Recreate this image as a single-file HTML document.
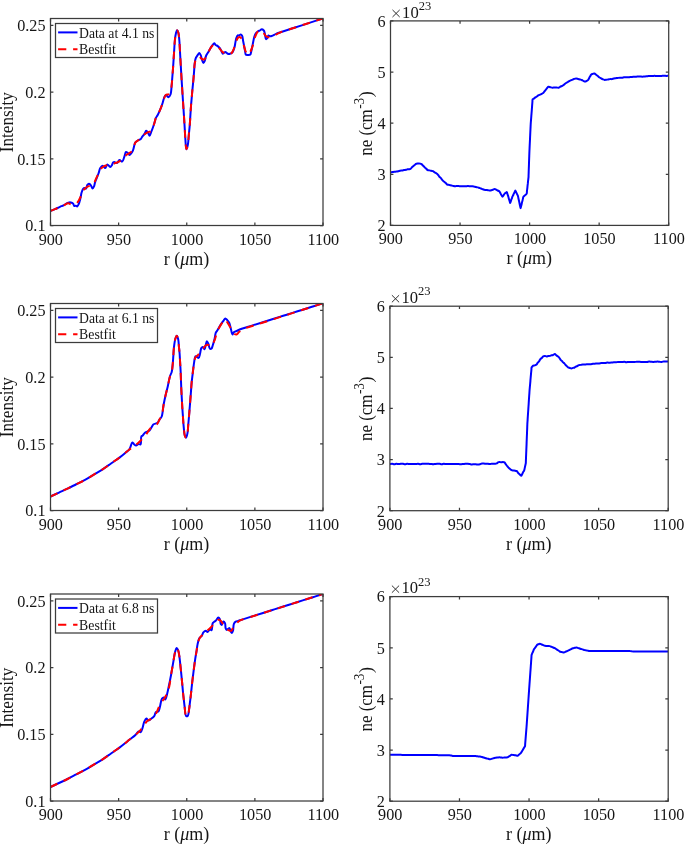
<!DOCTYPE html>
<html><head><meta charset="utf-8"><style>
html,body{margin:0;padding:0;background:#fff;}
svg{display:block;will-change:transform;}
text{font-family:"Liberation Serif",serif;fill:#161616;}
.tk{font-size:16.2px;}
.xl{font-size:18px;}
.yl{font-size:18px;}
.lg{font-size:14px;}
.ex{font-size:16.6px;}
.sup{font-size:14px;}
.sup2{font-size:12.5px;}
</style></head><body>
<svg width="685" height="844" viewBox="0 0 685 844">
<rect width="685" height="844" fill="#fff"/>
<defs><clipPath id="cl0"><rect x="50.50" y="18.50" width="272.50" height="207.00"/></clipPath></defs>
<g clip-path="url(#cl0)">
<path d="M50.50 211.00C52.00 210.40 53.47 209.87 55.00 209.20C56.63 208.48 58.47 207.47 60.00 206.80C61.26 206.25 62.41 205.95 63.50 205.40C64.54 204.88 65.41 204.11 66.40 203.60C67.35 203.11 68.36 202.53 69.30 202.40C70.12 202.29 71.03 202.46 71.70 202.70C72.26 202.90 72.70 203.15 73.10 203.60C73.61 204.17 73.75 205.73 74.30 206.00C74.71 206.20 75.32 205.62 75.80 205.70C76.29 205.78 76.77 206.60 77.20 206.50C77.76 206.36 78.25 205.18 78.70 204.20C79.37 202.74 79.92 200.35 80.40 198.40C80.88 196.45 81.07 194.19 81.60 192.50C82.02 191.16 82.48 189.74 83.10 189.00C83.51 188.51 84.01 188.15 84.50 188.10C84.98 188.05 85.58 188.89 86.00 188.70C86.67 188.40 86.77 185.73 87.40 184.90C87.83 184.33 88.39 183.84 88.90 183.80C89.39 183.77 89.96 184.16 90.40 184.60C90.98 185.19 91.35 186.62 91.80 187.30C92.11 187.77 92.39 188.41 92.70 188.40C93.08 188.39 93.56 187.43 93.90 186.70C94.39 185.66 94.63 183.81 95.00 182.60C95.30 181.63 95.51 181.06 95.90 180.00C96.53 178.32 97.74 175.59 98.50 173.50C99.19 171.60 99.46 169.37 100.30 168.00C100.93 166.97 101.80 165.72 102.60 165.70C103.43 165.67 104.44 168.12 105.20 168.00C106.02 167.87 106.44 164.65 107.30 164.50C108.12 164.36 109.38 166.95 110.20 166.90C110.86 166.86 111.43 165.80 111.90 165.10C112.41 164.35 112.59 163.03 113.10 162.50C113.45 162.14 113.82 161.91 114.30 161.90C115.00 161.89 116.09 163.27 116.90 163.10C117.85 162.90 118.55 160.27 119.50 160.10C120.34 159.95 121.46 161.84 122.20 161.60C123.12 161.30 123.58 158.74 124.20 157.20C124.86 155.55 125.21 152.35 126.00 152.00C126.41 151.82 126.92 152.26 127.40 152.60C128.08 153.08 128.82 154.86 129.50 154.90C130.08 154.93 130.67 154.04 131.20 153.40C131.86 152.59 132.48 151.54 133.00 150.30C133.68 148.66 134.11 145.73 134.60 144.30C134.88 143.48 134.93 143.00 135.40 142.40C136.05 141.58 137.52 140.71 138.50 140.10C139.30 139.60 140.17 139.47 140.80 138.90C141.45 138.31 141.72 137.38 142.30 136.60C142.96 135.72 143.95 134.87 144.60 133.90C145.25 132.94 145.57 130.89 146.20 130.80C146.76 130.72 147.55 132.02 148.10 132.80C148.70 133.66 149.11 135.82 149.60 135.80C150.14 135.78 150.66 133.36 151.20 132.00C151.82 130.45 152.51 128.67 153.10 127.00C153.68 125.34 154.23 123.57 154.70 122.00C155.11 120.62 155.28 119.29 155.80 118.10C156.29 116.97 157.03 116.26 157.70 115.00C158.66 113.18 159.93 110.28 160.80 108.10C161.56 106.21 162.16 104.39 162.70 102.70C163.17 101.22 163.41 99.77 163.90 98.50C164.33 97.37 164.74 95.71 165.40 95.40C165.86 95.19 166.51 95.52 167.00 95.80C167.56 96.11 167.99 97.34 168.50 97.30C169.15 97.25 169.99 95.80 170.50 94.50C171.35 92.31 171.38 87.89 171.70 84.80C171.99 81.99 172.13 79.43 172.35 76.75C172.57 74.07 172.80 71.48 173.00 68.70C173.22 65.70 173.40 62.47 173.60 59.35C173.80 56.23 173.99 53.17 174.20 50.00C174.42 46.72 174.56 43.03 174.90 40.00C175.19 37.45 175.51 34.77 176.00 33.00C176.32 31.87 176.70 30.32 177.10 30.30C177.47 30.28 177.98 31.51 178.30 32.50C178.86 34.22 179.04 37.32 179.30 40.00C179.60 43.09 179.73 47.06 179.90 50.00C180.03 52.31 180.13 54.13 180.25 56.20C180.37 58.27 180.47 60.12 180.60 62.40C180.76 65.20 180.97 68.63 181.15 71.75C181.33 74.87 181.51 77.98 181.70 81.10C181.89 84.22 182.10 87.33 182.30 90.45C182.50 93.57 182.70 96.63 182.90 99.80C183.11 103.07 183.33 106.43 183.55 109.75C183.77 113.07 183.99 116.38 184.20 119.70C184.41 123.02 184.60 126.33 184.80 129.65C185.00 132.97 185.13 136.31 185.40 139.60C185.67 142.86 185.86 149.25 186.40 149.30C186.79 149.34 187.51 146.41 187.90 144.50C188.44 141.80 188.53 137.87 188.85 134.55C189.17 131.23 189.54 127.86 189.80 124.60C190.05 121.45 190.20 118.40 190.40 115.30C190.60 112.20 190.78 108.93 191.00 106.00C191.20 103.36 191.43 101.00 191.65 98.50C191.87 96.00 192.08 93.38 192.30 91.00C192.50 88.83 192.70 86.87 192.90 84.80C193.10 82.73 193.31 80.76 193.50 78.60C193.71 76.23 193.90 73.63 194.10 71.15C194.30 68.67 194.41 65.93 194.70 63.70C194.94 61.86 195.05 60.21 195.60 58.70C196.11 57.30 197.09 55.91 197.80 54.90C198.32 54.16 198.82 53.07 199.30 53.10C199.82 53.13 200.39 54.49 200.80 55.40C201.31 56.54 201.45 58.20 201.90 59.50C202.33 60.73 202.87 62.96 203.40 63.00C203.85 63.03 204.41 61.64 204.80 60.70C205.33 59.44 205.39 57.47 206.00 56.00C206.60 54.54 207.61 53.27 208.40 51.90C209.18 50.54 209.93 49.03 210.70 47.80C211.37 46.73 212.06 45.72 212.70 44.90C213.22 44.24 213.71 43.19 214.20 43.20C214.68 43.21 215.04 44.42 215.60 44.90C216.19 45.40 217.02 45.58 217.70 46.10C218.49 46.70 219.34 47.49 220.00 48.40C220.73 49.40 221.26 50.93 221.80 51.90C222.20 52.61 222.39 53.60 222.90 53.70C223.50 53.82 224.57 51.91 225.30 51.90C225.91 51.89 226.51 52.75 227.00 53.10C227.38 53.37 227.58 53.67 228.00 53.80C228.53 53.97 229.32 53.99 230.00 53.80C230.82 53.57 231.81 53.11 232.50 52.30C233.44 51.20 234.01 48.98 234.50 47.30C234.97 45.68 235.08 44.00 235.40 42.40C235.71 40.87 235.94 39.16 236.40 37.90C236.76 36.92 237.12 35.75 237.70 35.40C238.12 35.14 238.72 35.55 239.20 35.40C239.73 35.24 240.22 34.36 240.70 34.40C241.19 34.44 241.73 35.04 242.10 35.70C242.71 36.80 242.76 39.19 243.10 40.90C243.43 42.56 243.78 44.12 244.10 45.80C244.44 47.58 244.77 49.68 245.10 51.30C245.37 52.60 245.28 54.25 245.90 54.80C246.37 55.21 247.22 55.00 247.90 55.00C248.62 55.00 249.55 55.23 250.10 54.80C250.81 54.24 250.92 52.70 251.30 51.30C251.84 49.30 252.29 46.33 252.80 43.90C253.29 41.53 253.69 38.81 254.30 36.90C254.74 35.51 255.15 34.34 255.80 33.40C256.36 32.60 257.05 32.03 257.80 31.50C258.55 30.96 259.69 30.62 260.30 30.20C260.70 29.93 260.79 29.47 261.20 29.40C261.82 29.30 263.22 29.88 263.80 30.50C264.37 31.10 264.41 31.97 264.70 33.00C265.15 34.58 265.31 38.81 266.00 39.10C266.31 39.23 266.77 38.79 267.10 38.40C267.62 37.79 267.87 35.58 268.40 35.40C268.73 35.29 269.05 35.89 269.50 36.00C270.09 36.15 270.87 36.20 271.70 36.00C272.94 35.71 274.61 34.42 276.10 33.80C277.55 33.20 278.71 32.90 280.50 32.30C283.27 31.37 287.58 29.98 291.12 28.82C294.67 27.67 298.21 26.51 301.75 25.35C305.29 24.19 308.83 23.03 312.38 21.88C315.92 20.72 319.46 19.56 323.00 18.40" fill="none" stroke="#0000ff" stroke-width="2" stroke-linejoin="round"/>
<path d="M50.50 211.00C52.00 210.40 53.47 209.87 55.00 209.20C56.63 208.48 58.47 207.47 60.00 206.80C61.26 206.25 62.25 205.93 63.50 205.40C64.96 204.78 66.82 203.32 68.20 203.30C69.28 203.28 70.07 204.33 71.10 204.50C72.17 204.68 73.44 204.64 74.50 204.30C75.58 203.95 76.58 203.38 77.50 202.40C78.82 200.99 80.08 198.04 81.00 196.00C81.78 194.26 82.08 192.24 82.80 191.00C83.31 190.13 83.79 189.68 84.50 189.00C85.42 188.12 86.81 186.82 88.00 186.30C88.99 185.87 90.09 186.18 91.00 185.80C91.92 185.42 92.79 184.84 93.50 184.00C94.39 182.95 94.85 181.27 95.60 179.70C96.50 177.83 97.56 175.45 98.50 173.50C99.35 171.74 99.98 169.75 101.00 168.50C101.81 167.50 102.78 166.84 103.80 166.30C104.79 165.78 105.82 165.55 107.00 165.30C108.38 165.01 110.21 165.19 111.60 164.80C112.85 164.45 113.86 163.69 115.00 163.20C116.12 162.72 117.33 162.49 118.40 161.90C119.50 161.30 120.53 160.44 121.50 159.60C122.46 158.77 123.27 157.76 124.20 156.90C125.11 156.06 125.98 155.24 127.00 154.50C128.10 153.70 129.58 153.17 130.60 152.30C131.56 151.49 132.36 150.66 133.00 149.50C133.77 148.10 134.00 145.69 134.60 144.30C135.03 143.29 135.36 142.49 136.00 141.80C136.65 141.09 137.64 140.76 138.50 140.10C139.50 139.33 140.59 138.35 141.60 137.40C142.63 136.42 143.56 135.18 144.60 134.30C145.54 133.51 146.46 132.82 147.50 132.30C148.53 131.79 149.91 131.95 150.80 131.20C151.85 130.32 152.46 128.49 153.10 127.00C153.77 125.44 154.23 123.57 154.70 122.00C155.11 120.62 155.28 119.29 155.80 118.10C156.29 116.97 157.03 116.26 157.70 115.00C158.66 113.18 159.93 110.28 160.80 108.10C161.56 106.21 161.96 104.65 162.70 102.70C163.59 100.35 164.52 96.09 165.80 95.00C166.47 94.43 167.30 94.75 168.00 94.50C168.70 94.25 169.46 94.21 170.00 93.50C171.07 92.09 171.31 87.65 171.70 84.80C172.08 82.08 172.13 79.43 172.35 76.75C172.57 74.07 172.80 71.48 173.00 68.70C173.22 65.70 173.40 62.47 173.60 59.35C173.80 56.23 173.99 53.17 174.20 50.00C174.42 46.72 174.56 43.03 174.90 40.00C175.19 37.45 175.51 34.77 176.00 33.00C176.32 31.87 176.70 30.32 177.10 30.30C177.47 30.28 177.98 31.51 178.30 32.50C178.86 34.22 179.04 37.32 179.30 40.00C179.60 43.09 179.73 47.06 179.90 50.00C180.03 52.31 180.13 54.13 180.25 56.20C180.37 58.27 180.47 60.12 180.60 62.40C180.76 65.20 180.97 68.63 181.15 71.75C181.33 74.87 181.51 77.98 181.70 81.10C181.89 84.22 182.10 87.33 182.30 90.45C182.50 93.57 182.70 96.63 182.90 99.80C183.11 103.07 183.33 106.43 183.55 109.75C183.77 113.07 183.99 116.38 184.20 119.70C184.41 123.02 184.60 126.33 184.80 129.65C185.00 132.97 185.13 136.31 185.40 139.60C185.67 142.86 185.86 149.25 186.40 149.30C186.79 149.34 187.51 146.41 187.90 144.50C188.44 141.80 188.53 137.87 188.85 134.55C189.17 131.23 189.54 127.86 189.80 124.60C190.05 121.45 190.20 118.40 190.40 115.30C190.60 112.20 190.78 108.93 191.00 106.00C191.20 103.36 191.43 101.00 191.65 98.50C191.87 96.00 192.08 93.38 192.30 91.00C192.50 88.83 192.70 86.87 192.90 84.80C193.10 82.73 193.31 80.76 193.50 78.60C193.71 76.23 193.90 73.63 194.10 71.15C194.30 68.67 194.29 65.88 194.70 63.70C195.03 61.93 195.29 60.22 196.10 59.00C196.81 57.93 198.03 56.60 199.00 56.60C199.97 56.60 200.93 58.53 201.90 59.00C202.67 59.37 203.51 59.78 204.20 59.50C205.13 59.13 205.75 57.45 206.60 56.00C207.85 53.87 209.30 49.74 210.70 47.80C211.62 46.52 212.46 45.28 213.50 45.00C214.42 44.75 215.56 45.29 216.50 45.80C217.57 46.38 218.54 47.51 219.50 48.50C220.51 49.54 221.33 51.05 222.40 51.90C223.35 52.65 224.37 53.10 225.50 53.50C226.72 53.93 228.37 54.55 229.50 54.30C230.48 54.09 231.30 53.34 232.00 52.50C232.86 51.47 233.35 49.92 234.00 48.30C234.84 46.20 235.60 42.81 236.40 40.90C236.93 39.62 237.33 38.47 238.00 37.80C238.49 37.30 239.15 36.84 239.70 36.90C240.29 36.97 240.92 37.75 241.40 38.40C241.99 39.20 242.40 40.36 242.80 41.50C243.26 42.80 243.48 44.30 243.90 45.80C244.37 47.46 244.92 49.55 245.50 51.00C245.94 52.10 246.25 53.27 246.90 53.80C247.42 54.22 248.25 54.53 248.80 54.30C249.54 54.00 250.00 52.56 250.60 51.30C251.50 49.41 252.51 46.39 253.30 43.90C254.08 41.43 254.46 38.60 255.30 36.40C256.01 34.55 256.74 32.51 257.80 31.50C258.58 30.76 259.64 30.22 260.50 30.30C261.37 30.38 262.23 31.23 263.00 32.00C263.96 32.95 264.67 34.93 265.60 35.80C266.30 36.45 267.00 36.85 267.80 37.10C268.60 37.35 269.50 37.39 270.40 37.30C271.40 37.20 272.55 36.87 273.50 36.40C274.45 35.93 275.09 35.12 276.10 34.50C277.35 33.74 278.68 33.05 280.50 32.30C283.24 31.17 287.58 29.98 291.12 28.82C294.67 27.67 298.21 26.51 301.75 25.35C305.29 24.19 308.83 23.03 312.38 21.88C315.92 20.72 319.46 19.56 323.00 18.40" fill="none" stroke="#ff0000" stroke-width="2" stroke-dasharray="7.6 6.8" stroke-linejoin="round"/>
</g>
<text x="45.50" y="231.30" text-anchor="end" class="tk">0.1</text>
<text x="45.50" y="164.60" text-anchor="end" class="tk">0.15</text>
<text x="45.50" y="97.90" text-anchor="end" class="tk">0.2</text>
<text x="45.50" y="31.20" text-anchor="end" class="tk">0.25</text>
<path d="M50.50 225.50h2.90M323.00 225.50h-2.90M50.50 158.80h2.90M323.00 158.80h-2.90M50.50 92.10h2.90M323.00 92.10h-2.90M50.50 25.40h2.90M323.00 25.40h-2.90" stroke="#3c3c3c" stroke-width="1.25" fill="none"/>
<text x="50.80" y="244.50" text-anchor="middle" class="tk">900</text>
<text x="118.92" y="244.50" text-anchor="middle" class="tk">950</text>
<text x="187.05" y="244.50" text-anchor="middle" class="tk">1000</text>
<text x="255.18" y="244.50" text-anchor="middle" class="tk">1050</text>
<text x="323.30" y="244.50" text-anchor="middle" class="tk">1100</text>
<path d="M50.50 225.50v-2.90M50.50 18.50v2.90M118.62 225.50v-2.90M118.62 18.50v2.90M186.75 225.50v-2.90M186.75 18.50v2.90M254.88 225.50v-2.90M254.88 18.50v2.90M323.00 225.50v-2.90M323.00 18.50v2.90" stroke="#3c3c3c" stroke-width="1.25" fill="none"/>
<rect x="50.50" y="18.50" width="272.50" height="207.00" fill="none" stroke="#3c3c3c" stroke-width="1.25"/>
<rect x="55.50" y="23.50" width="102" height="34" fill="#fff" stroke="#3c3c3c" stroke-width="1.25"/>
<path d="M58.10 32.40h19.4" stroke="#0000ff" stroke-width="2"/>
<path d="M58.10 49.20h19.4" stroke="#ff0000" stroke-width="2" stroke-dasharray="8.2 6.8"/>
<text x="79.10" y="37.80" class="lg" textLength="75.3" lengthAdjust="spacingAndGlyphs">Data at 4.1 ns</text>
<text x="79.10" y="54.00" class="lg" textLength="36.8" lengthAdjust="spacingAndGlyphs">Bestfit</text>
<text transform="translate(13.2 122.20) rotate(-90)" text-anchor="middle" class="yl" textLength="60" lengthAdjust="spacingAndGlyphs">Intensity</text>
<text x="186.45" y="264.50" text-anchor="middle" class="xl">r (<tspan font-style="italic">&#956;</tspan>m)</text>
<defs><clipPath id="cl1"><rect x="50.50" y="303.50" width="272.50" height="207.00"/></clipPath></defs>
<g clip-path="url(#cl1)">
<path d="M50.50 496.50C53.33 495.18 56.17 493.87 59.00 492.55C61.83 491.23 64.66 489.97 67.50 488.60C70.40 487.20 73.33 485.70 76.25 484.25C79.17 482.80 82.11 481.48 85.00 479.90C87.96 478.28 90.87 476.37 93.80 474.60C96.73 472.83 99.70 471.18 102.60 469.30C105.55 467.38 108.43 465.23 111.35 463.20C114.27 461.17 117.50 459.06 120.10 457.10C122.29 455.45 124.35 453.66 126.00 452.30C127.20 451.31 128.36 450.62 129.10 449.70C129.69 448.97 129.87 448.33 130.30 447.40C130.91 446.07 131.55 442.55 132.30 442.40C132.77 442.30 133.23 443.41 133.80 443.90C134.47 444.47 135.33 445.60 136.10 445.60C136.87 445.60 137.61 444.04 138.40 443.90C139.09 443.78 139.99 444.85 140.50 444.50C141.50 443.83 140.64 437.44 141.40 436.30C141.70 435.86 142.10 436.03 142.50 435.70C143.20 435.13 144.03 433.50 144.90 432.80C145.62 432.22 146.43 432.00 147.20 431.60C147.97 431.20 148.77 431.07 149.50 430.40C150.55 429.43 151.62 426.90 152.40 425.80C152.87 425.15 153.00 424.73 153.60 424.30C154.51 423.65 156.81 423.58 157.70 422.80C158.38 422.20 158.48 421.17 158.90 420.50C159.25 419.93 159.60 419.57 160.00 419.00C160.51 418.28 161.22 417.72 161.70 416.50C162.66 414.08 162.90 408.46 163.60 404.70C164.25 401.22 164.97 397.89 165.70 394.70C166.37 391.75 167.11 389.15 167.80 386.20C168.55 383.01 169.20 378.80 170.00 376.20C170.54 374.47 171.26 373.68 171.70 372.00C172.31 369.67 172.52 366.20 172.80 363.40C173.06 360.74 173.17 358.20 173.35 355.60C173.53 353.00 173.59 350.51 173.90 347.80C174.24 344.83 174.70 340.66 175.40 338.50C175.80 337.25 176.35 335.68 176.80 335.70C177.29 335.72 177.86 337.80 178.20 339.20C178.67 341.14 178.67 343.97 178.90 346.35C179.13 348.73 179.41 351.01 179.60 353.50C179.81 356.21 179.93 359.17 180.10 362.00C180.27 364.83 180.46 367.61 180.60 370.50C180.75 373.52 180.83 376.67 180.95 379.75C181.07 382.83 181.16 385.92 181.30 389.00C181.44 392.08 181.63 395.17 181.80 398.25C181.97 401.33 182.11 404.48 182.30 407.50C182.48 410.41 182.70 413.20 182.90 416.05C183.10 418.90 183.21 421.55 183.50 424.60C183.84 428.13 184.16 433.88 184.90 436.00C185.22 436.91 185.65 437.84 186.00 437.80C186.54 437.74 187.14 434.89 187.50 433.10C187.95 430.85 187.97 427.90 188.20 425.30C188.43 422.70 188.67 420.16 188.90 417.50C189.14 414.72 189.37 411.80 189.60 408.95C189.83 406.10 190.07 403.31 190.30 400.40C190.54 397.38 190.77 394.23 191.00 391.15C191.23 388.07 191.42 384.78 191.70 381.90C191.95 379.37 192.27 377.17 192.55 374.80C192.83 372.43 193.11 369.96 193.40 367.70C193.66 365.64 193.86 363.72 194.20 361.80C194.53 359.95 194.70 356.83 195.40 356.40C195.73 356.19 196.16 356.52 196.60 356.70C197.20 356.95 198.06 358.10 198.60 357.90C199.36 357.62 199.66 355.05 200.10 353.50C200.58 351.80 200.61 349.16 201.30 348.10C201.70 347.48 202.31 346.93 202.80 347.00C203.41 347.08 204.13 349.39 204.60 349.30C205.16 349.19 205.31 346.55 205.70 345.20C206.08 343.88 206.41 341.35 206.90 341.30C207.33 341.26 207.95 342.95 208.40 344.00C208.97 345.33 209.14 348.14 209.90 348.70C210.32 349.01 210.98 348.98 211.40 348.70C212.07 348.25 212.34 346.56 212.80 345.20C213.41 343.38 214.09 340.83 214.60 338.70C215.08 336.67 215.19 334.19 215.80 332.70C216.21 331.70 216.76 331.29 217.30 330.40C218.02 329.22 218.89 327.52 219.70 326.20C220.46 324.97 221.26 323.75 222.00 322.70C222.62 321.81 223.22 321.04 223.80 320.30C224.31 319.65 224.73 318.56 225.30 318.50C225.89 318.44 226.68 319.45 227.30 320.10C227.99 320.82 228.67 321.61 229.20 322.70C229.92 324.18 230.26 326.47 230.80 328.40C231.36 330.40 231.86 334.42 232.50 334.50C232.90 334.55 233.18 332.87 233.80 332.30C234.48 331.68 235.45 331.48 236.50 331.00C237.95 330.35 239.66 329.55 241.70 328.80C244.50 327.77 248.47 326.68 251.86 325.61C255.25 324.55 258.64 323.49 262.02 322.43C265.41 321.36 268.80 320.30 272.19 319.24C275.57 318.18 278.96 317.11 282.35 316.05C285.74 314.99 289.12 313.93 292.51 312.86C295.90 311.80 299.29 310.74 302.68 309.68C306.06 308.61 309.45 307.55 312.84 306.49C316.23 305.43 319.61 304.36 323.00 303.30" fill="none" stroke="#0000ff" stroke-width="2" stroke-linejoin="round"/>
<path d="M50.50 496.50C53.33 495.18 56.17 493.87 59.00 492.55C61.83 491.23 64.66 489.97 67.50 488.60C70.40 487.20 73.33 485.70 76.25 484.25C79.17 482.80 82.11 481.48 85.00 479.90C87.96 478.28 90.87 476.37 93.80 474.60C96.73 472.83 99.70 471.18 102.60 469.30C105.55 467.38 108.43 465.23 111.35 463.20C114.27 461.17 117.21 459.29 120.10 457.10C123.12 454.81 126.31 451.80 129.10 449.70C131.38 447.99 133.55 446.86 135.50 445.30C137.33 443.84 138.81 442.41 140.50 440.70C142.41 438.76 144.63 436.33 146.30 434.20C147.77 432.34 148.45 430.33 150.10 428.70C151.95 426.87 155.42 425.87 157.10 424.00C158.55 422.39 159.12 419.96 160.00 418.50C160.61 417.48 161.22 417.21 161.70 416.00C162.64 413.65 162.91 408.34 163.60 404.70C164.25 401.26 164.97 397.89 165.70 394.70C166.37 391.75 167.11 389.15 167.80 386.20C168.55 383.01 169.20 378.80 170.00 376.20C170.54 374.47 171.26 373.68 171.70 372.00C172.31 369.67 172.52 366.20 172.80 363.40C173.06 360.74 173.17 358.20 173.35 355.60C173.53 353.00 173.59 350.51 173.90 347.80C174.24 344.83 174.70 340.66 175.40 338.50C175.80 337.25 176.35 335.68 176.80 335.70C177.29 335.72 177.86 337.80 178.20 339.20C178.67 341.14 178.67 343.97 178.90 346.35C179.13 348.73 179.41 351.01 179.60 353.50C179.81 356.21 179.93 359.17 180.10 362.00C180.27 364.83 180.46 367.61 180.60 370.50C180.75 373.52 180.83 376.67 180.95 379.75C181.07 382.83 181.16 385.92 181.30 389.00C181.44 392.08 181.63 395.17 181.80 398.25C181.97 401.33 182.11 404.48 182.30 407.50C182.48 410.41 182.70 413.20 182.90 416.05C183.10 418.90 183.21 421.55 183.50 424.60C183.84 428.13 184.16 433.88 184.90 436.00C185.22 436.91 185.65 437.84 186.00 437.80C186.54 437.74 187.14 434.89 187.50 433.10C187.95 430.85 187.97 427.90 188.20 425.30C188.43 422.70 188.67 420.16 188.90 417.50C189.14 414.72 189.37 411.80 189.60 408.95C189.83 406.10 190.07 403.31 190.30 400.40C190.54 397.38 190.77 394.23 191.00 391.15C191.23 388.07 191.42 384.78 191.70 381.90C191.95 379.37 192.27 377.17 192.55 374.80C192.83 372.43 193.11 369.96 193.40 367.70C193.66 365.64 193.83 363.59 194.20 361.80C194.52 360.27 194.75 358.70 195.40 357.60C195.93 356.69 196.78 356.29 197.50 355.50C198.34 354.56 199.21 353.39 200.10 352.30C201.04 351.16 202.08 349.93 203.00 348.80C203.84 347.77 204.54 346.48 205.40 345.80C206.07 345.27 206.80 344.84 207.50 344.80C208.17 344.76 208.85 345.23 209.50 345.50C210.15 345.77 210.78 346.62 211.40 346.40C212.61 345.98 213.92 341.76 214.90 339.30C215.89 336.80 216.26 333.99 217.30 331.50C218.33 329.03 219.90 326.24 221.10 324.40C221.93 323.11 222.73 322.17 223.50 321.30C224.12 320.60 224.71 319.45 225.30 319.50C226.01 319.56 226.62 321.30 227.40 322.50C228.51 324.20 230.03 326.85 231.20 328.80C232.21 330.48 232.92 332.57 234.00 333.50C234.76 334.15 235.72 334.66 236.50 334.50C237.40 334.32 238.13 332.80 239.00 332.00C239.87 331.20 240.63 330.34 241.70 329.70C242.92 328.97 244.22 328.64 246.00 328.00C248.81 327.00 253.33 325.65 257.00 324.47C260.67 323.30 264.33 322.12 268.00 320.94C271.67 319.77 275.33 318.59 279.00 317.41C282.67 316.24 286.33 315.06 290.00 313.89C293.67 312.71 297.33 311.53 301.00 310.36C304.67 309.18 308.33 308.00 312.00 306.83C315.67 305.65 319.33 304.48 323.00 303.30" fill="none" stroke="#ff0000" stroke-width="2" stroke-dasharray="7.6 6.8" stroke-linejoin="round"/>
</g>
<text x="45.50" y="516.30" text-anchor="end" class="tk">0.1</text>
<text x="45.50" y="449.60" text-anchor="end" class="tk">0.15</text>
<text x="45.50" y="382.90" text-anchor="end" class="tk">0.2</text>
<text x="45.50" y="316.20" text-anchor="end" class="tk">0.25</text>
<path d="M50.50 510.50h2.90M323.00 510.50h-2.90M50.50 443.80h2.90M323.00 443.80h-2.90M50.50 377.10h2.90M323.00 377.10h-2.90M50.50 310.40h2.90M323.00 310.40h-2.90" stroke="#3c3c3c" stroke-width="1.25" fill="none"/>
<text x="50.80" y="529.50" text-anchor="middle" class="tk">900</text>
<text x="118.92" y="529.50" text-anchor="middle" class="tk">950</text>
<text x="187.05" y="529.50" text-anchor="middle" class="tk">1000</text>
<text x="255.18" y="529.50" text-anchor="middle" class="tk">1050</text>
<text x="323.30" y="529.50" text-anchor="middle" class="tk">1100</text>
<path d="M50.50 510.50v-2.90M50.50 303.50v2.90M118.62 510.50v-2.90M118.62 303.50v2.90M186.75 510.50v-2.90M186.75 303.50v2.90M254.88 510.50v-2.90M254.88 303.50v2.90M323.00 510.50v-2.90M323.00 303.50v2.90" stroke="#3c3c3c" stroke-width="1.25" fill="none"/>
<rect x="50.50" y="303.50" width="272.50" height="207.00" fill="none" stroke="#3c3c3c" stroke-width="1.25"/>
<rect x="55.50" y="308.50" width="102" height="34" fill="#fff" stroke="#3c3c3c" stroke-width="1.25"/>
<path d="M58.10 317.40h19.4" stroke="#0000ff" stroke-width="2"/>
<path d="M58.10 334.20h19.4" stroke="#ff0000" stroke-width="2" stroke-dasharray="8.2 6.8"/>
<text x="79.10" y="322.80" class="lg" textLength="75.3" lengthAdjust="spacingAndGlyphs">Data at 6.1 ns</text>
<text x="79.10" y="339.00" class="lg" textLength="36.8" lengthAdjust="spacingAndGlyphs">Bestfit</text>
<text transform="translate(13.2 407.20) rotate(-90)" text-anchor="middle" class="yl" textLength="60" lengthAdjust="spacingAndGlyphs">Intensity</text>
<text x="186.45" y="549.50" text-anchor="middle" class="xl">r (<tspan font-style="italic">&#956;</tspan>m)</text>
<defs><clipPath id="cl2"><rect x="50.50" y="594.00" width="272.50" height="207.00"/></clipPath></defs>
<g clip-path="url(#cl2)">
<path d="M50.50 787.00C53.33 785.67 56.17 784.33 59.00 783.00C61.83 781.67 64.66 780.41 67.50 779.00C70.41 777.56 73.33 775.97 76.25 774.45C79.17 772.93 82.10 771.52 85.00 769.90C87.96 768.24 90.87 766.37 93.80 764.60C96.73 762.83 99.70 761.18 102.60 759.30C105.55 757.38 108.43 755.23 111.35 753.20C114.27 751.17 117.62 748.94 120.10 747.10C122.01 745.69 123.40 744.50 125.05 743.20C126.70 741.90 128.30 740.66 130.00 739.30C131.84 737.84 134.18 736.16 135.70 734.70C136.86 733.59 137.53 731.77 138.50 731.50C139.21 731.30 140.10 732.47 140.70 732.20C141.51 731.83 141.87 729.78 142.40 728.30C143.06 726.45 143.44 723.67 144.20 721.90C144.80 720.51 145.52 718.51 146.30 718.40C146.97 718.31 147.75 720.43 148.50 720.50C149.18 720.56 149.82 719.67 150.60 719.10C151.65 718.33 153.32 717.39 154.20 716.20C155.08 715.02 155.02 712.70 155.90 712.00C156.56 711.48 157.76 712.14 158.40 711.60C159.28 710.85 159.39 708.78 159.90 707.00C160.58 704.61 160.95 699.93 162.00 698.50C162.52 697.80 163.27 697.29 163.80 697.40C164.39 697.52 164.84 699.57 165.30 699.50C165.96 699.40 166.46 696.36 167.00 694.40C167.71 691.82 168.35 688.42 169.00 685.30C169.68 682.02 170.45 678.13 171.00 675.20C171.42 672.94 171.70 671.20 172.05 669.20C172.40 667.20 172.69 665.50 173.10 663.20C173.66 660.06 174.34 654.85 175.10 652.10C175.57 650.41 176.01 648.18 176.60 648.10C177.05 648.04 177.68 649.14 178.10 650.10C178.86 651.82 179.23 655.61 179.60 658.10C179.92 660.25 180.03 662.13 180.25 664.15C180.47 666.17 180.69 668.18 180.90 670.20C181.11 672.22 181.30 674.23 181.50 676.25C181.70 678.27 181.88 679.98 182.10 682.30C182.40 685.44 182.77 690.19 183.10 693.40C183.35 695.87 183.60 697.77 183.85 699.95C184.10 702.13 184.28 704.12 184.60 706.50C184.99 709.38 185.03 715.08 186.10 716.00C186.54 716.37 187.26 716.36 187.70 716.00C188.66 715.22 188.82 710.87 189.20 708.50C189.54 706.38 189.70 704.47 189.95 702.45C190.20 700.43 190.46 698.49 190.70 696.40C190.96 694.14 191.20 691.70 191.45 689.35C191.70 687.00 191.94 684.56 192.20 682.30C192.44 680.21 192.70 678.27 192.95 676.25C193.20 674.23 193.40 672.52 193.70 670.20C194.11 667.06 194.67 662.60 195.20 659.10C195.68 655.94 196.27 652.80 196.70 650.10C197.05 647.90 197.17 646.07 197.60 644.10C198.03 642.14 198.44 639.72 199.30 638.30C199.94 637.25 201.03 636.92 201.70 636.00C202.43 634.99 202.64 633.31 203.40 632.40C204.06 631.62 205.07 630.70 205.80 630.70C206.42 630.70 206.91 631.95 207.50 631.90C208.26 631.84 209.11 629.68 209.90 629.50C210.47 629.37 211.16 630.36 211.60 630.10C212.48 629.58 211.85 624.70 212.80 623.10C213.48 621.95 214.80 621.69 215.70 620.80C216.65 619.87 217.53 617.65 218.30 617.60C218.85 617.56 219.40 618.30 219.80 619.00C220.44 620.14 220.32 623.45 220.90 624.30C221.16 624.68 221.51 624.98 221.80 624.90C222.33 624.75 222.68 621.73 223.30 621.60C223.79 621.50 224.61 622.35 225.00 623.10C225.59 624.22 225.23 626.87 225.60 628.10C225.83 628.88 226.04 629.77 226.50 629.90C227.01 630.04 228.04 628.93 228.60 628.60C228.96 628.39 229.23 628.00 229.50 628.10C230.03 628.30 230.30 630.83 230.80 631.70C231.14 632.28 231.56 633.04 231.90 633.00C232.31 632.95 232.70 631.77 233.00 630.80C233.50 629.15 233.21 625.41 233.90 623.80C234.34 622.78 234.95 622.08 235.70 621.60C236.43 621.13 237.36 621.19 238.30 620.90C239.43 620.55 240.46 620.11 242.00 619.60C244.54 618.75 248.75 617.47 252.12 616.40C255.50 615.33 258.88 614.27 262.25 613.20C265.62 612.13 269.00 611.07 272.38 610.00C275.75 608.93 279.12 607.87 282.50 606.80C285.88 605.73 289.25 604.67 292.62 603.60C296.00 602.53 299.37 601.47 302.75 600.40C306.12 599.33 309.50 598.27 312.88 597.20C316.25 596.13 319.62 595.07 323.00 594.00" fill="none" stroke="#0000ff" stroke-width="2" stroke-linejoin="round"/>
<path d="M50.50 787.00C53.33 785.67 56.17 784.33 59.00 783.00C61.83 781.67 64.66 780.41 67.50 779.00C70.41 777.56 73.33 775.97 76.25 774.45C79.17 772.93 82.10 771.52 85.00 769.90C87.96 768.24 90.87 766.37 93.80 764.60C96.73 762.83 99.70 761.18 102.60 759.30C105.55 757.38 108.43 755.23 111.35 753.20C114.27 751.17 117.62 748.94 120.10 747.10C122.01 745.69 123.40 744.50 125.05 743.20C126.70 741.90 128.30 740.66 130.00 739.30C131.84 737.84 133.90 736.30 135.70 734.70C137.46 733.13 139.18 731.60 140.70 729.80C142.26 727.95 143.62 725.33 144.90 723.70C145.83 722.52 146.52 721.58 147.50 720.80C148.43 720.06 149.49 719.96 150.60 719.10C152.31 717.77 154.87 715.22 156.30 713.00C157.64 710.93 158.15 708.26 159.10 706.30C159.89 704.68 160.65 703.25 161.50 702.00C162.23 700.93 163.02 700.34 163.80 699.20C164.85 697.67 166.10 695.60 167.00 693.50C168.01 691.15 168.76 688.52 169.40 685.70C170.14 682.48 170.51 678.21 171.00 675.20C171.37 672.92 171.70 671.20 172.05 669.20C172.40 667.20 172.69 665.50 173.10 663.20C173.66 660.06 174.34 654.85 175.10 652.10C175.57 650.41 176.01 648.18 176.60 648.10C177.05 648.04 177.68 649.14 178.10 650.10C178.86 651.82 179.23 655.61 179.60 658.10C179.92 660.25 180.03 662.13 180.25 664.15C180.47 666.17 180.69 668.18 180.90 670.20C181.11 672.22 181.30 674.23 181.50 676.25C181.70 678.27 181.88 679.98 182.10 682.30C182.40 685.44 182.77 690.19 183.10 693.40C183.35 695.87 183.60 697.77 183.85 699.95C184.10 702.13 184.28 704.12 184.60 706.50C184.99 709.38 185.03 715.08 186.10 716.00C186.54 716.37 187.26 716.36 187.70 716.00C188.66 715.22 188.82 710.87 189.20 708.50C189.54 706.38 189.70 704.47 189.95 702.45C190.20 700.43 190.46 698.49 190.70 696.40C190.96 694.14 191.20 691.70 191.45 689.35C191.70 687.00 191.94 684.56 192.20 682.30C192.44 680.21 192.70 678.27 192.95 676.25C193.20 674.23 193.40 672.52 193.70 670.20C194.11 667.06 194.67 662.60 195.20 659.10C195.68 655.94 196.27 652.80 196.70 650.10C197.05 647.90 197.09 646.11 197.60 644.10C198.14 641.97 198.72 639.56 199.90 637.70C201.06 635.86 203.14 634.37 204.60 633.00C205.81 631.87 206.91 630.99 208.00 630.00C209.04 629.06 209.92 628.31 211.00 627.20C212.42 625.74 214.29 623.22 215.70 621.90C216.68 620.98 217.52 619.95 218.40 619.80C219.11 619.68 219.86 620.02 220.50 620.50C221.34 621.13 221.83 622.51 222.70 623.70C223.84 625.26 225.46 627.82 226.80 629.00C227.71 629.81 228.68 630.32 229.50 630.60C230.11 630.81 230.72 631.03 231.20 630.80C231.80 630.52 232.07 629.42 232.60 628.60C233.29 627.54 234.15 626.06 235.00 625.00C235.76 624.05 236.55 623.26 237.40 622.50C238.22 621.76 239.16 620.98 240.00 620.50C240.68 620.11 241.07 620.03 242.00 619.70C244.07 618.96 248.75 617.56 252.12 616.49C255.50 615.42 258.88 614.35 262.25 613.28C265.62 612.20 269.00 611.13 272.38 610.06C275.75 608.99 279.12 607.92 282.50 606.85C285.88 605.78 289.25 604.71 292.62 603.64C296.00 602.57 299.37 601.50 302.75 600.42C306.13 599.35 309.50 598.28 312.88 597.21C316.25 596.14 319.62 595.07 323.00 594.00" fill="none" stroke="#ff0000" stroke-width="2" stroke-dasharray="7.6 6.8" stroke-linejoin="round"/>
</g>
<text x="45.50" y="806.80" text-anchor="end" class="tk">0.1</text>
<text x="45.50" y="740.10" text-anchor="end" class="tk">0.15</text>
<text x="45.50" y="673.40" text-anchor="end" class="tk">0.2</text>
<text x="45.50" y="606.70" text-anchor="end" class="tk">0.25</text>
<path d="M50.50 801.00h2.90M323.00 801.00h-2.90M50.50 734.30h2.90M323.00 734.30h-2.90M50.50 667.60h2.90M323.00 667.60h-2.90M50.50 600.90h2.90M323.00 600.90h-2.90" stroke="#3c3c3c" stroke-width="1.25" fill="none"/>
<text x="50.80" y="820.00" text-anchor="middle" class="tk">900</text>
<text x="118.92" y="820.00" text-anchor="middle" class="tk">950</text>
<text x="187.05" y="820.00" text-anchor="middle" class="tk">1000</text>
<text x="255.18" y="820.00" text-anchor="middle" class="tk">1050</text>
<text x="323.30" y="820.00" text-anchor="middle" class="tk">1100</text>
<path d="M50.50 801.00v-2.90M50.50 594.00v2.90M118.62 801.00v-2.90M118.62 594.00v2.90M186.75 801.00v-2.90M186.75 594.00v2.90M254.88 801.00v-2.90M254.88 594.00v2.90M323.00 801.00v-2.90M323.00 594.00v2.90" stroke="#3c3c3c" stroke-width="1.25" fill="none"/>
<rect x="50.50" y="594.00" width="272.50" height="207.00" fill="none" stroke="#3c3c3c" stroke-width="1.25"/>
<rect x="55.50" y="599.00" width="102" height="34" fill="#fff" stroke="#3c3c3c" stroke-width="1.25"/>
<path d="M58.10 607.90h19.4" stroke="#0000ff" stroke-width="2"/>
<path d="M58.10 624.70h19.4" stroke="#ff0000" stroke-width="2" stroke-dasharray="8.2 6.8"/>
<text x="79.10" y="613.30" class="lg" textLength="75.3" lengthAdjust="spacingAndGlyphs">Data at 6.8 ns</text>
<text x="79.10" y="629.50" class="lg" textLength="36.8" lengthAdjust="spacingAndGlyphs">Bestfit</text>
<text transform="translate(13.2 697.70) rotate(-90)" text-anchor="middle" class="yl" textLength="60" lengthAdjust="spacingAndGlyphs">Intensity</text>
<text x="186.45" y="840.00" text-anchor="middle" class="xl">r (<tspan font-style="italic">&#956;</tspan>m)</text>
<path d="M390.50 172.50C391.14 172.37 391.78 172.24 392.43 172.10C393.07 171.97 393.71 171.80 394.35 171.71C394.99 171.62 395.64 171.67 396.27 171.59C396.92 171.50 397.56 171.35 398.20 171.20C398.85 171.05 399.49 170.79 400.15 170.68C400.80 170.57 401.45 170.61 402.10 170.51C402.75 170.42 403.40 170.22 404.05 170.10C404.70 169.98 405.40 169.94 406.00 169.80C406.54 169.67 406.99 169.42 407.50 169.32C407.99 169.23 408.50 169.27 409.00 169.20C409.50 169.13 410.04 169.16 410.50 168.90C411.04 168.59 411.45 167.79 411.95 167.31C412.42 166.87 412.93 166.50 413.40 166.10C413.85 165.72 414.26 165.34 414.70 164.97C415.13 164.61 415.53 164.15 416.00 163.90C416.45 163.66 416.96 163.56 417.45 163.48C417.93 163.40 418.43 163.37 418.90 163.40C419.35 163.43 419.77 163.51 420.20 163.64C420.64 163.77 421.09 163.94 421.50 164.20C421.95 164.49 422.34 164.94 422.75 165.32C423.17 165.71 423.60 166.08 424.00 166.50C424.41 166.93 424.78 167.47 425.20 167.86C425.58 168.23 426.02 168.45 426.40 168.82C426.82 169.22 427.10 169.94 427.60 170.20C428.10 170.46 428.80 170.28 429.40 170.39C430.00 170.50 430.60 170.73 431.20 170.85C431.80 170.97 432.47 170.88 433.00 171.10C433.51 171.32 433.88 171.85 434.33 172.15C434.77 172.43 435.23 172.61 435.67 172.86C436.12 173.13 436.58 173.34 437.00 173.70C437.47 174.10 437.88 174.68 438.30 175.21C438.74 175.77 439.14 176.48 439.60 176.99C440.01 177.45 440.49 177.72 440.90 178.17C441.36 178.67 441.75 179.37 442.20 179.90C442.61 180.38 443.03 180.83 443.48 181.22C443.89 181.58 444.33 181.83 444.75 182.17C445.18 182.51 445.61 182.89 446.02 183.28C446.46 183.70 446.77 184.33 447.30 184.60C447.86 184.89 448.66 184.77 449.33 184.91C450.01 185.06 450.69 185.28 451.37 185.46C452.04 185.64 452.72 185.88 453.40 186.00C454.07 186.12 454.76 186.17 455.44 186.17C456.12 186.16 456.80 185.95 457.48 185.95C458.16 185.95 458.84 186.11 459.52 186.15C460.20 186.20 460.88 186.22 461.56 186.22C462.24 186.21 462.92 186.14 463.60 186.15C464.28 186.16 464.96 186.27 465.64 186.26C466.32 186.25 467.00 186.12 467.68 186.11C468.36 186.09 469.04 186.12 469.72 186.14C470.40 186.17 471.08 186.20 471.76 186.24C472.44 186.29 473.12 186.28 473.80 186.40C474.49 186.52 475.16 186.81 475.85 186.97C476.53 187.14 477.27 187.22 477.90 187.40C478.46 187.56 478.93 187.77 479.45 187.95C479.97 188.13 480.49 188.28 481.00 188.48C481.52 188.68 482.03 188.95 482.55 189.16C483.06 189.36 483.55 189.56 484.10 189.70C484.71 189.85 485.41 189.89 486.07 189.98C486.72 190.07 487.38 190.12 488.03 190.22C488.69 190.32 489.39 190.62 490.00 190.60C490.55 190.58 491.03 190.35 491.53 190.18C492.05 190.02 492.56 189.81 493.07 189.61C493.58 189.42 494.09 189.00 494.60 189.00C495.11 189.00 495.63 189.39 496.13 189.63C496.65 189.88 497.15 190.23 497.67 190.50C498.17 190.75 498.78 190.82 499.20 191.20C499.68 191.63 499.94 192.42 500.30 193.04C500.67 193.69 501.02 194.39 501.40 195.02C501.76 195.61 502.12 196.69 502.50 196.70C502.86 196.71 503.24 195.75 503.60 195.24C503.97 194.72 504.29 194.03 504.70 193.60C505.04 193.24 505.43 193.02 505.80 192.77C506.16 192.52 506.63 191.99 506.90 192.10C507.24 192.24 507.25 193.51 507.45 194.13C507.62 194.66 507.83 195.08 508.00 195.61C508.20 196.22 508.37 196.91 508.55 197.57C508.73 198.22 508.91 198.92 509.10 199.54C509.28 200.10 509.47 200.57 509.65 201.13C509.84 201.75 510.01 203.09 510.20 203.10C510.38 203.11 510.57 202.05 510.75 201.50C510.94 200.92 511.10 200.26 511.30 199.72C511.47 199.23 511.67 198.84 511.85 198.37C512.04 197.84 512.18 197.23 512.40 196.70C512.61 196.20 512.89 195.77 513.12 195.28C513.37 194.77 513.60 194.19 513.85 193.68C514.09 193.19 514.34 192.77 514.57 192.28C514.83 191.75 515.04 190.61 515.30 190.60C515.57 190.59 515.88 191.68 516.17 192.26C516.46 192.86 516.74 193.54 517.03 194.14C517.32 194.72 517.68 195.20 517.90 195.80C518.13 196.45 518.20 197.22 518.35 197.92C518.50 198.62 518.65 199.31 518.80 200.00C518.95 200.68 519.10 201.34 519.25 202.03C519.40 202.76 519.55 203.53 519.70 204.27C519.85 204.99 520.00 205.71 520.15 206.39C520.30 207.05 520.45 208.30 520.60 208.30C520.75 208.30 520.91 207.00 521.07 206.36C521.22 205.73 521.38 205.14 521.53 204.50C521.70 203.80 521.83 203.00 522.00 202.32C522.15 201.73 522.32 201.23 522.47 200.65C522.63 200.02 522.78 199.35 522.93 198.69C523.09 198.03 523.08 197.19 523.40 196.70C523.66 196.30 524.14 196.18 524.50 195.86C524.88 195.53 525.24 195.14 525.60 194.76C525.97 194.38 526.47 194.09 526.70 193.60C526.96 193.03 526.85 192.18 526.93 191.49C527.00 190.82 527.07 190.16 527.15 189.50C527.22 188.86 527.30 188.26 527.38 187.59C527.45 186.87 527.52 186.03 527.60 185.31C527.67 184.66 527.75 184.10 527.83 183.46C527.90 182.77 527.97 182.02 528.05 181.32C528.12 180.63 528.20 179.94 528.27 179.27C528.35 178.63 528.45 178.06 528.50 177.40C528.56 176.67 528.55 175.81 528.58 175.08C528.60 174.43 528.63 173.88 528.65 173.22C528.68 172.48 528.70 171.60 528.73 170.83C528.75 170.11 528.77 169.43 528.80 168.73C528.82 168.04 528.85 167.33 528.88 166.65C528.90 165.99 528.93 165.39 528.95 164.70C528.98 163.93 529.00 163.02 529.02 162.24C529.05 161.54 529.08 160.92 529.10 160.25C529.13 159.56 529.15 158.84 529.17 158.14C529.20 157.47 529.23 156.82 529.25 156.14C529.28 155.43 529.30 154.70 529.32 153.97C529.35 153.22 529.37 152.43 529.40 151.70C529.43 151.02 529.47 150.42 529.50 149.73C529.53 148.98 529.57 148.14 529.60 147.38C529.63 146.67 529.67 146.01 529.70 145.32C529.73 144.61 529.77 143.87 529.80 143.18C529.83 142.53 529.87 141.93 529.90 141.28C529.93 140.60 529.97 139.91 530.00 139.19C530.03 138.41 530.07 137.54 530.10 136.75C530.13 136.03 530.17 135.35 530.20 134.65C530.23 133.95 530.27 133.25 530.30 132.55C530.33 131.85 530.37 131.14 530.40 130.44C530.43 129.76 530.47 129.10 530.50 128.42C530.53 127.74 530.57 127.05 530.60 126.35C530.63 125.64 530.66 124.92 530.70 124.20C530.74 123.48 530.81 122.76 530.86 122.04C530.91 121.32 530.96 120.57 531.02 119.87C531.07 119.21 531.12 118.62 531.18 117.97C531.23 117.29 531.28 116.57 531.33 115.88C531.39 115.21 531.44 114.55 531.49 113.89C531.54 113.25 531.60 112.64 531.65 111.98C531.70 111.28 531.76 110.53 531.81 109.81C531.86 109.09 531.91 108.38 531.97 107.67C532.02 106.99 532.07 106.32 532.12 105.65C532.18 104.97 532.23 104.31 532.28 103.60C532.34 102.86 532.39 102.02 532.44 101.29C532.49 100.63 532.33 99.85 532.60 99.40C532.84 99.02 533.41 98.95 533.80 98.66C534.21 98.35 534.54 97.94 535.00 97.60C535.52 97.21 536.21 96.91 536.80 96.51C537.41 96.11 538.00 95.52 538.60 95.20C539.11 94.92 539.63 94.84 540.13 94.62C540.65 94.39 541.16 94.12 541.67 93.85C542.18 93.58 542.75 93.38 543.20 93.00C543.68 92.59 544.02 91.94 544.43 91.42C544.84 90.91 545.25 90.40 545.67 89.89C546.08 89.39 546.54 88.85 546.90 88.40C547.19 88.03 547.39 87.69 547.65 87.39C547.89 87.13 548.06 86.78 548.40 86.70C548.89 86.58 549.76 87.09 550.45 87.25C551.13 87.42 551.81 87.66 552.50 87.70C553.18 87.74 553.85 87.55 554.53 87.52C555.21 87.50 555.89 87.50 556.57 87.53C557.25 87.56 558.01 87.83 558.60 87.70C559.12 87.58 559.51 87.16 559.97 86.92C560.42 86.67 560.87 86.44 561.33 86.23C561.78 86.03 562.24 85.96 562.70 85.70C563.26 85.39 563.84 84.84 564.40 84.40C564.97 83.96 565.52 83.46 566.10 83.05C566.66 82.66 567.27 82.34 567.80 82.00C568.28 81.69 568.70 81.36 569.17 81.10C569.61 80.85 570.08 80.66 570.53 80.46C570.99 80.26 571.40 80.11 571.90 79.90C572.51 79.65 573.26 79.28 573.95 79.04C574.63 78.81 575.31 78.52 576.00 78.50C576.68 78.49 577.37 78.78 578.05 78.95C578.74 79.11 579.45 79.31 580.10 79.50C580.69 79.67 581.25 79.76 581.80 80.01C582.38 80.27 582.92 80.78 583.50 81.05C584.05 81.30 584.66 81.65 585.20 81.60C585.73 81.55 586.20 81.08 586.70 80.80C587.20 80.51 587.79 80.33 588.20 79.90C588.66 79.41 588.88 78.56 589.23 77.93C589.57 77.31 589.92 76.73 590.27 76.13C590.61 75.55 590.84 74.78 591.30 74.40C591.72 74.05 592.33 74.01 592.85 73.84C593.36 73.67 593.90 73.30 594.40 73.40C594.98 73.51 595.53 74.28 596.10 74.71C596.66 75.14 597.24 75.53 597.80 75.98C598.38 76.45 598.91 77.08 599.50 77.50C600.05 77.89 600.63 78.14 601.20 78.44C601.76 78.74 602.33 79.05 602.90 79.30C603.46 79.54 604.02 79.83 604.60 79.90C605.18 79.97 605.80 79.75 606.40 79.69C607.00 79.62 607.60 79.59 608.20 79.49C608.80 79.40 609.40 79.20 610.00 79.13C610.60 79.07 611.19 79.19 611.80 79.10C612.46 79.00 613.15 78.69 613.83 78.54C614.51 78.40 615.19 78.34 615.87 78.24C616.54 78.13 617.22 78.00 617.90 77.90C618.58 77.80 619.26 77.69 619.94 77.66C620.62 77.64 621.31 77.80 621.99 77.75C622.67 77.69 623.35 77.44 624.03 77.34C624.71 77.24 625.39 77.13 626.07 77.14C626.75 77.14 627.43 77.38 628.11 77.37C628.80 77.35 629.47 77.13 630.16 77.05C630.84 76.98 631.52 76.96 632.20 76.90C632.88 76.84 633.56 76.70 634.24 76.67C634.92 76.64 635.60 76.77 636.28 76.74C636.96 76.70 637.64 76.47 638.32 76.44C639.00 76.41 639.68 76.52 640.36 76.55C641.04 76.58 641.72 76.65 642.40 76.64C643.08 76.63 643.76 76.55 644.44 76.51C645.12 76.46 645.80 76.42 646.48 76.35C647.16 76.28 647.84 76.14 648.52 76.08C649.20 76.03 649.88 76.05 650.56 76.04C651.24 76.02 651.93 76.03 652.60 76.00C653.26 75.97 653.91 75.83 654.56 75.84C655.22 75.85 655.87 76.04 656.52 76.06C657.18 76.07 657.83 75.95 658.49 75.94C659.14 75.93 659.80 76.03 660.45 76.01C661.10 75.99 661.76 75.85 662.41 75.81C663.07 75.76 663.72 75.72 664.38 75.74C665.03 75.76 665.68 75.94 666.34 75.95C666.99 75.96 667.65 75.85 668.30 75.80" fill="none" stroke="#0000ff" stroke-width="2" stroke-linejoin="round"/>
<text x="385.50" y="231.20" text-anchor="end" class="tk">2</text>
<text x="385.50" y="180.08" text-anchor="end" class="tk">3</text>
<text x="385.50" y="128.95" text-anchor="end" class="tk">4</text>
<text x="385.50" y="77.83" text-anchor="end" class="tk">5</text>
<text x="385.50" y="26.70" text-anchor="end" class="tk">6</text>
<path d="M390.50 225.40h2.90M668.70 225.40h-2.90M390.50 174.28h2.90M668.70 174.28h-2.90M390.50 123.15h2.90M668.70 123.15h-2.90M390.50 72.03h2.90M668.70 72.03h-2.90M390.50 20.90h2.90M668.70 20.90h-2.90" stroke="#3c3c3c" stroke-width="1.25" fill="none"/>
<text x="390.80" y="244.40" text-anchor="middle" class="tk">900</text>
<text x="460.35" y="244.40" text-anchor="middle" class="tk">950</text>
<text x="529.90" y="244.40" text-anchor="middle" class="tk">1000</text>
<text x="599.45" y="244.40" text-anchor="middle" class="tk">1050</text>
<text x="669.00" y="244.40" text-anchor="middle" class="tk">1100</text>
<path d="M390.50 225.40v-2.90M390.50 20.90v2.90M460.05 225.40v-2.90M460.05 20.90v2.90M529.60 225.40v-2.90M529.60 20.90v2.90M599.15 225.40v-2.90M599.15 20.90v2.90M668.70 225.40v-2.90M668.70 20.90v2.90" stroke="#3c3c3c" stroke-width="1.25" fill="none"/>
<rect x="390.50" y="20.90" width="278.20" height="204.50" fill="none" stroke="#3c3c3c" stroke-width="1.25"/>
<g transform="translate(372 155.80) rotate(-90)">
<text x="0" y="0" class="yl" textLength="46.6" lengthAdjust="spacingAndGlyphs">ne (cm</text>
<text x="47.0" y="-7.9" class="sup" textLength="11.0" lengthAdjust="spacingAndGlyphs">-3</text>
<text x="58.6" y="0" class="yl">)</text>
</g>
<text x="529.30" y="264.40" text-anchor="middle" class="xl">r (<tspan font-style="italic">&#956;</tspan>m)</text>
<path d="M392.50 9.90L399.70 17.00M392.50 17.00L399.70 9.90" stroke="#262626" stroke-width="0.95" fill="none"/>
<text x="402.10" y="17.60" class="ex">10<tspan dy="-7.6" class="sup2">23</tspan></text>
<path d="M390.00 464.00C390.72 463.95 391.44 463.79 392.15 463.84C392.88 463.88 393.59 464.29 394.31 464.28C395.03 464.27 395.74 463.80 396.46 463.78C397.18 463.75 397.90 464.13 398.62 464.12C399.33 464.12 400.05 463.80 400.77 463.75C401.49 463.71 402.21 463.76 402.92 463.85C403.65 463.94 404.36 464.30 405.08 464.30C405.80 464.30 406.51 463.86 407.23 463.83C407.95 463.79 408.67 464.06 409.39 464.09C410.10 464.11 410.82 463.99 411.54 463.98C412.26 463.96 412.98 463.97 413.69 463.97C414.41 463.98 415.13 464.02 415.85 464.00C416.57 463.97 417.29 463.78 418.00 463.82C418.72 463.85 419.44 464.21 420.16 464.20C420.88 464.19 421.59 463.81 422.31 463.75C423.03 463.70 423.75 463.85 424.46 463.84C425.18 463.83 425.90 463.71 426.62 463.71C427.34 463.72 428.05 463.82 428.77 463.86C429.49 463.90 430.21 463.88 430.93 463.94C431.65 464.01 432.36 464.24 433.08 464.24C433.80 464.24 434.52 464.01 435.24 463.93C435.95 463.85 436.67 463.78 437.39 463.77C438.11 463.76 438.83 463.77 439.54 463.86C440.26 463.94 440.98 464.31 441.70 464.29C442.42 464.28 443.13 463.77 443.85 463.74C444.57 463.70 445.29 464.04 446.01 464.07C446.72 464.10 447.44 463.92 448.16 463.93C448.88 463.93 449.60 464.10 450.31 464.10C451.03 464.09 451.75 463.90 452.47 463.90C453.19 463.91 453.90 464.10 454.62 464.11C455.34 464.13 456.06 464.00 456.78 464.00C457.49 463.99 458.21 464.05 458.93 464.09C459.65 464.13 460.37 464.25 461.08 464.24C461.80 464.23 462.52 464.12 463.24 464.05C463.96 463.97 464.67 463.84 465.39 463.79C466.11 463.73 466.83 463.70 467.55 463.74C468.27 463.77 468.99 463.89 469.70 464.00C470.39 464.11 471.06 464.37 471.75 464.42C472.43 464.47 473.12 464.32 473.80 464.29C474.48 464.27 475.17 464.22 475.85 464.27C476.54 464.32 477.22 464.60 477.90 464.60C478.58 464.60 479.28 464.46 479.95 464.27C480.65 464.07 481.30 463.51 482.00 463.40C482.67 463.30 483.36 463.51 484.03 463.58C484.71 463.65 485.39 463.77 486.07 463.80C486.74 463.84 487.44 463.76 488.10 463.80C488.72 463.84 489.30 464.05 489.90 464.03C490.50 464.01 491.10 463.72 491.70 463.67C492.30 463.62 492.90 463.69 493.50 463.71C494.10 463.74 494.75 463.86 495.30 463.80C495.79 463.75 496.23 463.64 496.67 463.43C497.15 463.19 497.55 462.62 498.03 462.38C498.47 462.16 498.92 462.02 499.40 462.00C499.93 461.97 500.53 462.29 501.10 462.29C501.67 462.30 502.23 462.01 502.80 462.03C503.37 462.04 504.05 462.10 504.50 462.40C504.96 462.71 505.18 463.40 505.53 463.88C505.87 464.35 506.22 464.81 506.57 465.25C506.91 465.68 507.23 466.07 507.60 466.50C508.01 466.98 508.47 467.55 508.93 468.00C509.36 468.43 509.82 468.80 510.27 469.17C510.71 469.53 511.10 469.97 511.60 470.20C512.12 470.43 512.75 470.45 513.33 470.54C513.91 470.62 514.49 470.58 515.07 470.69C515.65 470.80 516.37 470.93 516.80 471.20C517.14 471.41 517.31 471.68 517.55 471.99C517.82 472.34 517.97 472.82 518.30 473.20C518.69 473.65 519.30 474.05 519.80 474.47C520.30 474.88 520.89 475.78 521.30 475.70C521.70 475.62 521.93 474.62 522.23 474.04C522.55 473.42 522.83 472.69 523.17 472.11C523.46 471.59 523.87 471.21 524.10 470.70C524.33 470.19 524.39 469.65 524.52 469.07C524.68 468.41 524.80 467.63 524.95 466.95C525.09 466.34 525.24 465.80 525.38 465.20C525.52 464.55 525.71 463.89 525.80 463.20C525.89 462.47 525.86 461.66 525.88 460.91C525.91 460.19 525.94 459.52 525.97 458.80C526.00 458.06 526.02 457.27 526.05 456.54C526.08 455.88 526.11 455.28 526.14 454.62C526.17 453.92 526.19 453.17 526.22 452.45C526.25 451.77 526.28 451.11 526.31 450.43C526.33 449.72 526.36 448.97 526.39 448.28C526.42 447.64 526.45 447.07 526.47 446.43C526.50 445.76 526.53 445.08 526.56 444.35C526.59 443.54 526.61 442.59 526.64 441.79C526.67 441.09 526.70 440.49 526.73 439.81C526.76 439.08 526.78 438.26 526.81 437.55C526.84 436.91 526.87 436.34 526.89 435.72C526.92 435.09 526.95 434.48 526.98 433.79C527.01 432.99 527.03 431.99 527.06 431.21C527.09 430.56 527.12 430.06 527.15 429.42C527.18 428.68 527.20 427.81 527.23 427.02C527.26 426.25 527.29 425.45 527.32 424.73C527.34 424.08 527.36 423.52 527.40 422.90C527.44 422.27 527.49 421.66 527.54 420.99C527.59 420.25 527.63 419.43 527.67 418.67C527.72 417.93 527.77 417.20 527.81 416.50C527.86 415.84 527.91 415.24 527.95 414.59C528.00 413.88 528.04 413.11 528.09 412.40C528.13 411.72 528.18 411.09 528.23 410.43C528.27 409.76 528.32 409.07 528.36 408.39C528.41 407.69 528.45 406.99 528.50 406.30C528.55 405.64 528.59 405.01 528.64 404.33C528.68 403.61 528.73 402.83 528.77 402.09C528.82 401.35 528.87 400.62 528.91 399.90C528.96 399.20 529.00 398.52 529.05 397.83C529.10 397.14 529.14 396.43 529.19 395.77C529.23 395.14 529.28 394.58 529.33 393.95C529.37 393.26 529.42 392.49 529.46 391.78C529.51 391.11 529.55 390.45 529.60 389.80C529.65 389.17 529.72 388.59 529.78 387.95C529.85 387.24 529.90 386.44 529.96 385.73C530.02 385.07 530.08 384.45 530.15 383.82C530.21 383.19 530.27 382.62 530.33 381.94C530.39 381.15 530.44 380.17 530.51 379.36C530.57 378.63 530.63 377.97 530.69 377.29C530.75 376.63 530.81 375.98 530.87 375.33C530.93 374.69 530.99 374.07 531.05 373.44C531.12 372.80 531.18 372.16 531.24 371.52C531.30 370.87 531.36 370.25 531.42 369.58C531.48 368.88 531.37 367.95 531.60 367.40C531.77 366.99 532.13 366.75 532.40 366.46C532.66 366.19 532.85 365.88 533.20 365.70C533.64 365.48 534.35 365.57 534.90 365.38C535.48 365.18 536.14 364.93 536.60 364.50C537.09 364.04 537.30 363.17 537.70 362.67C538.04 362.25 538.46 362.05 538.80 361.63C539.20 361.15 539.52 360.43 539.90 359.90C540.25 359.40 540.61 358.90 541.00 358.53C541.35 358.20 541.76 358.06 542.10 357.73C542.50 357.34 542.73 356.59 543.20 356.30C543.66 356.01 544.31 355.93 544.87 355.95C545.43 355.98 545.97 356.42 546.53 356.45C547.09 356.47 547.64 356.20 548.20 356.10C548.75 356.00 549.31 355.99 549.85 355.86C550.41 355.72 550.94 355.44 551.50 355.30C552.05 355.16 552.61 355.18 553.15 354.99C553.72 354.79 554.26 354.05 554.80 354.10C555.37 354.15 555.90 354.98 556.45 355.40C557.00 355.81 557.60 356.17 558.10 356.60C558.56 357.00 558.96 357.37 559.35 357.86C559.80 358.41 560.15 359.25 560.60 359.78C560.99 360.24 561.45 360.50 561.85 360.91C562.28 361.36 562.66 361.97 563.10 362.40C563.50 362.79 563.95 363.00 564.35 363.40C564.79 363.84 565.17 364.49 565.60 364.96C566.00 365.40 566.44 365.75 566.85 366.15C567.27 366.56 567.61 367.10 568.10 367.40C568.58 367.69 569.20 367.75 569.75 367.93C570.30 368.12 570.87 368.51 571.40 368.50C571.91 368.49 572.39 368.03 572.90 367.89C573.39 367.76 573.93 367.89 574.40 367.70C574.92 367.49 575.36 366.89 575.87 366.61C576.34 366.34 576.85 366.26 577.33 366.02C577.83 365.76 578.25 365.29 578.80 365.10C579.38 364.90 580.09 364.98 580.73 364.87C581.38 364.77 582.02 364.54 582.67 364.48C583.31 364.41 583.94 364.53 584.60 364.50C585.28 364.47 585.99 364.34 586.69 364.31C587.38 364.28 588.08 364.35 588.77 364.32C589.47 364.30 590.16 364.24 590.86 364.16C591.55 364.08 592.25 363.94 592.94 363.85C593.64 363.77 594.33 363.71 595.03 363.65C595.72 363.59 596.42 363.52 597.11 363.47C597.81 363.43 598.51 363.47 599.20 363.40C599.90 363.33 600.59 363.16 601.29 363.08C601.98 363.00 602.68 362.93 603.37 362.90C604.07 362.87 604.76 362.96 605.46 362.90C606.15 362.84 606.85 362.56 607.54 362.54C608.24 362.51 608.93 362.74 609.63 362.75C610.32 362.76 611.02 362.66 611.71 362.58C612.41 362.51 613.10 362.35 613.80 362.30C614.49 362.25 615.19 362.38 615.89 362.31C616.58 362.24 617.27 361.94 617.97 361.90C618.66 361.86 619.36 362.03 620.06 362.05C620.75 362.07 621.45 362.08 622.14 362.03C622.84 361.98 623.54 361.74 624.23 361.77C624.93 361.80 625.62 362.22 626.31 362.24C627.01 362.26 627.70 361.93 628.40 361.90C629.09 361.87 629.79 362.05 630.49 362.05C631.18 362.05 631.88 361.91 632.57 361.90C633.27 361.90 633.96 362.05 634.66 362.02C635.35 361.99 636.05 361.77 636.74 361.72C637.44 361.67 638.13 361.71 638.83 361.74C639.52 361.77 640.22 361.89 640.91 361.92C641.61 361.94 642.30 361.89 643.00 361.90C643.70 361.91 644.39 362.00 645.09 362.00C645.78 362.00 646.48 361.99 647.17 361.90C647.87 361.81 648.56 361.49 649.26 361.48C649.95 361.46 650.65 361.72 651.34 361.80C652.04 361.87 652.73 361.93 653.43 361.93C654.12 361.93 654.82 361.84 655.51 361.79C656.21 361.73 656.91 361.59 657.60 361.60C658.29 361.61 658.99 361.81 659.68 361.86C660.37 361.90 661.07 361.96 661.76 361.89C662.46 361.82 663.14 361.50 663.84 361.43C664.53 361.37 665.23 361.45 665.92 361.48C666.61 361.51 667.31 361.56 668.00 361.60" fill="none" stroke="#0000ff" stroke-width="2" stroke-linejoin="round"/>
<text x="384.90" y="516.50" text-anchor="end" class="tk">2</text>
<text x="384.90" y="465.38" text-anchor="end" class="tk">3</text>
<text x="384.90" y="414.25" text-anchor="end" class="tk">4</text>
<text x="384.90" y="363.12" text-anchor="end" class="tk">5</text>
<text x="384.90" y="312.00" text-anchor="end" class="tk">6</text>
<path d="M389.90 510.70h2.90M668.20 510.70h-2.90M389.90 459.57h2.90M668.20 459.57h-2.90M389.90 408.45h2.90M668.20 408.45h-2.90M389.90 357.32h2.90M668.20 357.32h-2.90M389.90 306.20h2.90M668.20 306.20h-2.90" stroke="#3c3c3c" stroke-width="1.25" fill="none"/>
<text x="390.20" y="529.70" text-anchor="middle" class="tk">900</text>
<text x="459.78" y="529.70" text-anchor="middle" class="tk">950</text>
<text x="529.35" y="529.70" text-anchor="middle" class="tk">1000</text>
<text x="598.92" y="529.70" text-anchor="middle" class="tk">1050</text>
<text x="668.50" y="529.70" text-anchor="middle" class="tk">1100</text>
<path d="M389.90 510.70v-2.90M389.90 306.20v2.90M459.48 510.70v-2.90M459.48 306.20v2.90M529.05 510.70v-2.90M529.05 306.20v2.90M598.62 510.70v-2.90M598.62 306.20v2.90M668.20 510.70v-2.90M668.20 306.20v2.90" stroke="#3c3c3c" stroke-width="1.25" fill="none"/>
<rect x="389.90" y="306.20" width="278.30" height="204.50" fill="none" stroke="#3c3c3c" stroke-width="1.25"/>
<g transform="translate(372 441.10) rotate(-90)">
<text x="0" y="0" class="yl" textLength="46.6" lengthAdjust="spacingAndGlyphs">ne (cm</text>
<text x="47.0" y="-7.9" class="sup" textLength="11.0" lengthAdjust="spacingAndGlyphs">-3</text>
<text x="58.6" y="0" class="yl">)</text>
</g>
<text x="528.75" y="549.70" text-anchor="middle" class="xl">r (<tspan font-style="italic">&#956;</tspan>m)</text>
<path d="M391.90 295.20L399.10 302.30M391.90 302.30L399.10 295.20" stroke="#262626" stroke-width="0.95" fill="none"/>
<text x="401.50" y="302.90" class="ex">10<tspan dy="-7.6" class="sup2">23</tspan></text>
<path d="M390.00 754.80C390.73 754.80 391.46 754.81 392.20 754.81C392.93 754.82 393.66 754.82 394.39 754.83C395.12 754.83 395.86 754.84 396.59 754.84C397.32 754.85 398.05 754.85 398.79 754.86C399.52 754.86 400.25 754.87 400.98 754.87C401.71 754.88 402.45 754.88 403.18 754.89C403.91 754.89 404.64 754.90 405.37 754.90C406.11 754.91 406.84 754.91 407.57 754.92C408.30 754.92 409.03 754.93 409.77 754.93C410.50 754.94 411.23 754.94 411.96 754.95C412.70 754.95 413.43 754.96 414.16 754.96C414.89 754.97 415.62 754.97 416.36 754.98C417.09 754.98 417.82 754.99 418.55 754.99C419.28 755.00 420.02 755.00 420.75 755.01C421.48 755.01 422.21 755.02 422.94 755.02C423.68 755.03 424.41 755.03 425.14 755.04C425.87 755.04 426.60 755.05 427.34 755.05C428.07 755.06 428.80 755.06 429.53 755.07C430.27 755.07 431.00 755.08 431.73 755.08C432.46 755.09 433.19 755.09 433.93 755.10C434.66 755.10 435.39 755.11 436.12 755.11C436.85 755.12 437.59 755.12 438.32 755.13C439.05 755.13 439.78 755.14 440.51 755.14C441.25 755.15 441.98 755.15 442.71 755.16C443.44 755.16 444.18 755.17 444.91 755.17C445.64 755.18 446.37 755.18 447.10 755.19C447.84 755.19 448.58 755.14 449.30 755.20C450.00 755.26 450.67 755.43 451.35 755.55C452.03 755.67 452.72 755.84 453.40 755.90C454.08 755.96 454.76 755.90 455.44 755.90C456.12 755.90 456.80 755.90 457.48 755.90C458.16 755.90 458.84 755.90 459.52 755.90C460.20 755.90 460.88 755.90 461.56 755.90C462.24 755.90 462.92 755.90 463.60 755.90C464.28 755.90 464.96 755.90 465.64 755.90C466.32 755.90 467.00 755.90 467.68 755.90C468.36 755.90 469.04 755.90 469.72 755.90C470.40 755.90 471.08 755.90 471.76 755.90C472.44 755.90 473.14 755.86 473.80 755.90C474.42 755.93 475.00 756.03 475.60 756.10C476.20 756.17 476.80 756.23 477.40 756.30C478.00 756.37 478.60 756.43 479.20 756.50C479.80 756.57 480.41 756.58 481.00 756.70C481.58 756.82 482.13 757.06 482.70 757.23C483.27 757.41 483.83 757.59 484.40 757.77C484.97 757.94 485.50 758.13 486.10 758.30C486.75 758.48 487.47 758.63 488.15 758.80C488.83 758.97 489.52 759.33 490.20 759.30C490.89 759.27 491.57 758.83 492.25 758.60C492.93 758.37 493.64 758.05 494.30 757.90C494.89 757.77 495.43 757.77 496.00 757.70C496.57 757.63 497.13 757.57 497.70 757.50C498.27 757.43 498.85 757.30 499.40 757.30C499.92 757.30 500.40 757.43 500.90 757.50C501.40 757.57 501.88 757.69 502.40 757.70C502.96 757.72 503.56 757.61 504.13 757.57C504.71 757.52 505.29 757.48 505.87 757.43C506.44 757.39 507.08 757.47 507.60 757.30C508.10 757.14 508.49 756.74 508.93 756.47C509.38 756.19 509.82 755.91 510.27 755.63C510.71 755.36 511.12 754.91 511.60 754.80C512.08 754.70 512.63 754.93 513.15 755.00C513.67 755.07 514.20 755.12 514.70 755.20C515.18 755.27 515.63 755.37 516.10 755.45C516.57 755.53 517.04 755.81 517.50 755.70C518.06 755.57 518.60 754.87 519.15 754.45C519.70 754.03 520.35 753.70 520.80 753.20C521.25 752.70 521.50 752.02 521.85 751.43C522.20 750.83 522.55 750.24 522.90 749.65C523.25 749.06 523.60 748.47 523.95 747.88C524.30 747.28 524.80 746.73 525.00 746.10C525.20 745.48 525.11 744.77 525.16 744.11C525.21 743.45 525.27 742.78 525.32 742.12C525.37 741.46 525.43 740.79 525.48 740.13C525.53 739.47 525.59 738.80 525.64 738.14C525.69 737.48 525.75 736.81 525.80 736.15C525.85 735.49 525.91 734.82 525.96 734.16C526.01 733.50 526.07 732.83 526.12 732.17C526.17 731.51 526.23 730.84 526.28 730.18C526.33 729.52 526.39 728.85 526.44 728.19C526.49 727.53 526.55 726.88 526.60 726.20C526.65 725.50 526.70 724.77 526.75 724.05C526.80 723.34 526.85 722.62 526.89 721.91C526.94 721.19 526.99 720.47 527.04 719.76C527.09 719.04 527.14 718.33 527.19 717.61C527.24 716.90 527.29 716.18 527.34 715.46C527.38 714.75 527.43 714.03 527.48 713.32C527.53 712.60 527.58 711.89 527.63 711.17C527.68 710.45 527.73 709.74 527.78 709.02C527.83 708.31 527.87 707.59 527.92 706.88C527.97 706.16 528.02 705.45 528.07 704.73C528.12 704.01 528.17 703.30 528.22 702.58C528.27 701.87 528.32 701.15 528.36 700.44C528.41 699.72 528.46 699.00 528.51 698.29C528.56 697.57 528.61 696.86 528.66 696.14C528.71 695.43 528.76 694.71 528.81 693.99C528.85 693.28 528.90 692.56 528.95 691.85C529.00 691.13 529.05 690.42 529.10 689.70C529.15 688.98 529.20 688.25 529.26 687.53C529.31 686.80 529.36 686.07 529.41 685.35C529.46 684.63 529.52 683.90 529.57 683.18C529.62 682.45 529.67 681.72 529.73 681.00C529.78 680.27 529.83 679.55 529.88 678.83C529.93 678.10 529.99 677.37 530.04 676.65C530.09 675.92 530.14 675.20 530.19 674.48C530.25 673.75 530.30 673.02 530.35 672.30C530.40 671.58 530.45 670.85 530.51 670.12C530.56 669.40 530.61 668.68 530.66 667.95C530.71 667.22 530.77 666.50 530.82 665.77C530.87 665.05 530.92 664.33 530.98 663.60C531.03 662.87 531.08 662.15 531.13 661.42C531.18 660.70 531.24 659.98 531.29 659.25C531.34 658.52 531.39 657.80 531.44 657.07C531.50 656.35 531.43 655.59 531.60 654.90C531.77 654.22 532.16 653.61 532.43 652.97C532.71 652.32 532.99 651.68 533.27 651.03C533.54 650.39 533.76 649.69 534.10 649.10C534.42 648.55 534.83 648.10 535.20 647.60C535.57 647.10 535.93 646.60 536.30 646.10C536.67 645.60 536.96 644.91 537.40 644.60C537.77 644.34 538.23 644.33 538.65 644.20C539.07 644.07 539.46 643.78 539.90 643.80C540.42 643.82 541.01 644.24 541.57 644.47C542.12 644.69 542.68 644.91 543.23 645.13C543.79 645.36 544.34 645.67 544.90 645.80C545.44 645.92 545.99 645.87 546.53 645.90C547.08 645.93 547.62 645.97 548.17 646.00C548.71 646.03 549.26 645.97 549.80 646.10C550.36 646.23 550.91 646.57 551.47 646.80C552.02 647.03 552.58 647.27 553.13 647.50C553.69 647.73 554.27 647.92 554.80 648.20C555.31 648.47 555.77 648.82 556.25 649.12C556.73 649.43 557.22 649.74 557.70 650.05C558.18 650.36 558.67 650.67 559.15 650.98C559.63 651.28 560.08 651.70 560.60 651.90C561.11 652.09 561.70 652.07 562.25 652.15C562.80 652.23 563.38 652.46 563.90 652.40C564.39 652.34 564.83 652.02 565.30 651.83C565.77 651.64 566.23 651.46 566.70 651.27C567.17 651.08 567.62 650.92 568.10 650.70C568.62 650.46 569.17 650.14 569.70 649.87C570.23 649.59 570.77 649.31 571.30 649.03C571.83 648.76 572.33 648.40 572.90 648.20C573.48 648.00 574.13 647.97 574.75 647.85C575.37 647.73 575.99 647.46 576.60 647.50C577.21 647.54 577.80 647.90 578.40 648.10C579.00 648.30 579.63 648.51 580.20 648.70C580.71 648.87 581.18 649.01 581.67 649.17C582.16 649.32 582.64 649.48 583.13 649.63C583.62 649.79 584.11 649.98 584.60 650.10C585.09 650.22 585.58 650.28 586.07 650.37C586.56 650.46 587.04 650.54 587.53 650.63C588.02 650.72 588.46 650.85 589.00 650.90C589.65 650.96 590.46 650.90 591.19 650.90C591.92 650.90 592.65 650.90 593.38 650.90C594.11 650.90 594.84 650.90 595.57 650.90C596.30 650.90 597.03 650.90 597.76 650.90C598.49 650.90 599.21 650.90 599.94 650.90C600.67 650.90 601.40 650.90 602.13 650.90C602.86 650.90 603.59 650.90 604.32 650.90C605.05 650.90 605.78 650.90 606.51 650.90C607.24 650.90 607.97 650.90 608.70 650.90C609.43 650.90 610.16 650.90 610.89 650.90C611.62 650.90 612.35 650.90 613.08 650.90C613.81 650.90 614.54 650.90 615.27 650.90C616.00 650.90 616.73 650.90 617.46 650.90C618.19 650.90 618.91 650.90 619.64 650.90C620.37 650.90 621.10 650.90 621.83 650.90C622.56 650.90 623.29 650.90 624.02 650.90C624.75 650.90 625.48 650.90 626.21 650.90C626.94 650.90 627.69 650.86 628.40 650.90C629.07 650.94 629.69 651.06 630.33 651.13C630.98 651.21 631.62 651.29 632.27 651.37C632.91 651.44 633.54 651.56 634.20 651.60C634.89 651.64 635.61 651.60 636.31 651.60C637.02 651.60 637.72 651.60 638.43 651.60C639.13 651.60 639.83 651.60 640.54 651.60C641.24 651.60 641.95 651.60 642.65 651.60C643.35 651.60 644.06 651.60 644.76 651.60C645.47 651.60 646.17 651.60 646.88 651.60C647.58 651.60 648.28 651.60 648.99 651.60C649.69 651.60 650.40 651.60 651.10 651.60C651.80 651.60 652.51 651.60 653.21 651.60C653.92 651.60 654.62 651.60 655.33 651.60C656.03 651.60 656.73 651.60 657.44 651.60C658.14 651.60 658.85 651.60 659.55 651.60C660.25 651.60 660.96 651.60 661.66 651.60C662.37 651.60 663.07 651.60 663.77 651.60C664.48 651.60 665.18 651.60 665.89 651.60C666.59 651.60 667.30 651.60 668.00 651.60" fill="none" stroke="#0000ff" stroke-width="2" stroke-linejoin="round"/>
<text x="384.90" y="807.00" text-anchor="end" class="tk">2</text>
<text x="384.90" y="755.85" text-anchor="end" class="tk">3</text>
<text x="384.90" y="704.70" text-anchor="end" class="tk">4</text>
<text x="384.90" y="653.55" text-anchor="end" class="tk">5</text>
<text x="384.90" y="602.40" text-anchor="end" class="tk">6</text>
<path d="M389.90 801.20h2.90M668.20 801.20h-2.90M389.90 750.05h2.90M668.20 750.05h-2.90M389.90 698.90h2.90M668.20 698.90h-2.90M389.90 647.75h2.90M668.20 647.75h-2.90M389.90 596.60h2.90M668.20 596.60h-2.90" stroke="#3c3c3c" stroke-width="1.25" fill="none"/>
<text x="390.20" y="820.20" text-anchor="middle" class="tk">900</text>
<text x="459.78" y="820.20" text-anchor="middle" class="tk">950</text>
<text x="529.35" y="820.20" text-anchor="middle" class="tk">1000</text>
<text x="598.92" y="820.20" text-anchor="middle" class="tk">1050</text>
<text x="668.50" y="820.20" text-anchor="middle" class="tk">1100</text>
<path d="M389.90 801.20v-2.90M389.90 596.60v2.90M459.48 801.20v-2.90M459.48 596.60v2.90M529.05 801.20v-2.90M529.05 596.60v2.90M598.62 801.20v-2.90M598.62 596.60v2.90M668.20 801.20v-2.90M668.20 596.60v2.90" stroke="#3c3c3c" stroke-width="1.25" fill="none"/>
<rect x="389.90" y="596.60" width="278.30" height="204.60" fill="none" stroke="#3c3c3c" stroke-width="1.25"/>
<g transform="translate(372 731.55) rotate(-90)">
<text x="0" y="0" class="yl" textLength="46.6" lengthAdjust="spacingAndGlyphs">ne (cm</text>
<text x="47.0" y="-7.9" class="sup" textLength="11.0" lengthAdjust="spacingAndGlyphs">-3</text>
<text x="58.6" y="0" class="yl">)</text>
</g>
<text x="528.75" y="840.20" text-anchor="middle" class="xl">r (<tspan font-style="italic">&#956;</tspan>m)</text>
<path d="M391.90 585.60L399.10 592.70M391.90 592.70L399.10 585.60" stroke="#262626" stroke-width="0.95" fill="none"/>
<text x="401.50" y="593.30" class="ex">10<tspan dy="-7.6" class="sup2">23</tspan></text>
</svg>
</body></html>
